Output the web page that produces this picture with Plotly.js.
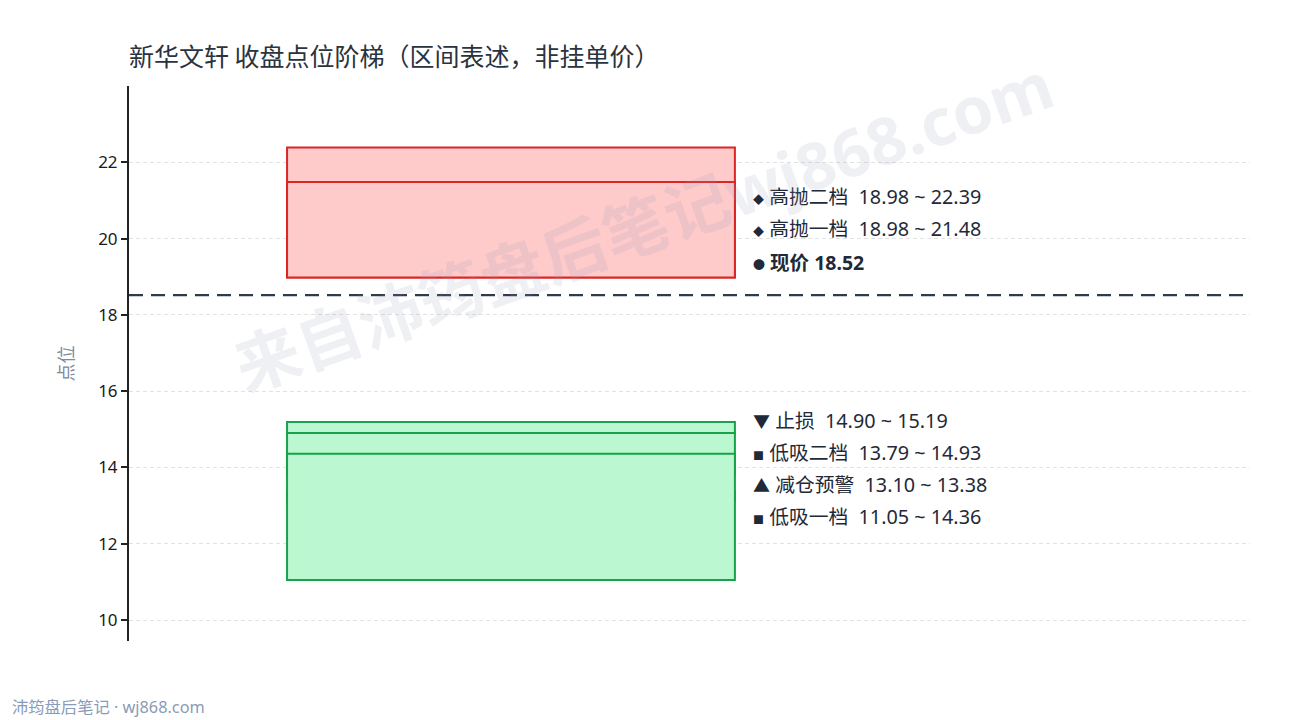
<!DOCTYPE html>
<html>
<head>
<meta charset="utf-8">
<script src="https://cdn.plot.ly/plotly-3.0.1.min.js"></script>
<style>
  html, body { margin: 0; padding: 0; background: #fff; }
  #chart { width: 1290px; height: 720px; }
</style>
</head>
<body>
<div id="chart"></div>
<script>
const FONT = "Noto Sans, Noto Sans CJK SC, sans-serif";
const CJK = "Noto Sans CJK SC, Noto Sans, sans-serif";

// zones: draw order matters, later boxes cover earlier ones
const zoneNames = ["高抛二档", "高抛一档", "减仓预警", "低吸二档", "低吸一档", "止损"];
const zoneLow = [18.98, 18.98, 13.10, 13.79, 11.05, 14.90];
const zoneHigh = [22.39, 21.48, 13.38, 14.93, 14.36, 15.19];
const zoneSide = ["sell", "sell", "buy", "buy", "buy", "buy"];

const currentPrice = 18.52;

// right-side labels, top to bottom
const sellMarks = ["◆", "◆"];
const sellLabels = ["高抛二档&nbsp; 18.98 ~ 22.39", "高抛一档&nbsp; 18.98 ~ 21.48"];
const buyMarks = ["▼", "■", "▲", "■"];
const buyLabels = ["止损&nbsp; 14.90 ~ 15.19", "低吸二档&nbsp; 13.79 ~ 14.93", "减仓预警&nbsp; 13.10 ~ 13.38", "低吸一档&nbsp; 11.05 ~ 14.36"];

const yTicks = [10, 12, 14, 16, 18, 20, 22];

const plotTop = 86, plotH = 555;
const pxToPaper = px => 1 - (px - plotTop) / plotH;

const colors = {
  sell: { fill: "#fecaca", line: "#dc2626" },
  buy: { fill: "#bbf7d0", line: "#16a34a" },
};

const shapes = zoneNames.map((name, i) => ({
  type: "rect",
  xref: "x", yref: "y",
  x0: 0.141, x1: 0.5405,
  y0: zoneLow[i], y1: zoneHigh[i],
  fillcolor: colors[zoneSide[i]].fill,
  line: { color: colors[zoneSide[i]].line, width: 2 },
}));

shapes.push({
  type: "line",
  xref: "paper", yref: "y",
  x0: 0, x1: 1, y0: currentPrice, y1: currentPrice,
  line: { color: "#2f3a4a", width: 2.3, dash: "14px,8px" },
});

const markSize = { "◆": 11, "■": 11, "▼": 17, "▲": 17, "●": 12 };
function mark(m) {
  return `<span style="font-size:${markSize[m]}px">${m}</span>`;
}

const labelX = 0.555;
const labelFont = { family: FONT, size: 19.8, color: "#1f2937" };
const annotations = [];

sellLabels.forEach((t, i) => {
  annotations.push({
    xref: "paper", yref: "paper", x: labelX, y: pxToPaper(196 + i * 32),
    text: mark(sellMarks[i]) + " " + t, showarrow: false, xanchor: "left", yanchor: "middle", font: labelFont,
  });
});
annotations.push({
  xref: "paper", yref: "paper", x: labelX, y: pxToPaper(262),
  text: "<b>" + mark("●") + " 现价 " + currentPrice.toFixed(2) + "</b>", showarrow: false,
  xanchor: "left", yanchor: "middle", font: { family: FONT, size: 19.5, color: "#1f2937" },
});
buyLabels.forEach((t, i) => {
  annotations.push({
    xref: "paper", yref: "paper", x: labelX, y: pxToPaper(420 + i * 32),
    text: mark(buyMarks[i]) + " " + t, showarrow: false, xanchor: "left", yanchor: "middle", font: labelFont,
  });
});

// watermark
annotations.push({
  xref: "paper", yref: "paper", x: 0.4585, y: 0.75,
  text: "<b>来自沛筠盘后笔记wj868.com</b>", showarrow: false, textangle: -19.5,
  xanchor: "center", yanchor: "middle",
  font: { family: FONT, size: 65, color: "rgba(145,152,180,0.15)" },
});

// footer
annotations.push({
  xref: "paper", yref: "paper", x: -0.1065, y: -0.1185,
  text: "沛筠盘后笔记 · wj868.com", showarrow: false, xanchor: "left", yanchor: "middle",
  font: { family: FONT, size: 16.3, color: "#8a9bb8" },
});

const trace = {
  x: [0.3], y: [currentPrice], type: "scatter", mode: "markers",
  marker: { opacity: 0 }, hoverinfo: "skip", showlegend: false,
};

const layout = {
  width: 1290, height: 720,
  paper_bgcolor: "#fff", plot_bgcolor: "#fff",
  margin: { l: 129, r: 40, t: 86, b: 79 },
  title: {
    text: "新华文轩 收盘点位阶梯（区间表述，非挂单价）",
    x: 0.1, xanchor: "left", y: 0.921, yanchor: "middle",
    font: { family: CJK, size: 25, color: "#2a3340" },
  },
  xaxis: {
    range: [0, 1], visible: false, fixedrange: true,
  },
  yaxis: {
    range: [9.45, 24], tickvals: yTicks, ticktext: yTicks.map(String),
    showline: true, linecolor: "#222", linewidth: 2,
    ticks: "outside", ticklen: 6, tickwidth: 2, tickcolor: "#222",
    showgrid: true, gridcolor: "#e2e2e2", griddash: "4px,3px", gridwidth: 1,
    zeroline: false,
    tickfont: { family: FONT, size: 17, color: "#1a1a1a" },
    title: { text: "点位", standoff: 20, font: { family: FONT, size: 18, color: "#7f8a9a" } },
  },
  shapes: shapes,
  annotations: annotations,
  showlegend: false,
};

Plotly.newPlot("chart", [trace], layout, { displayModeBar: false, staticPlot: true });
</script>
</body>
</html>
